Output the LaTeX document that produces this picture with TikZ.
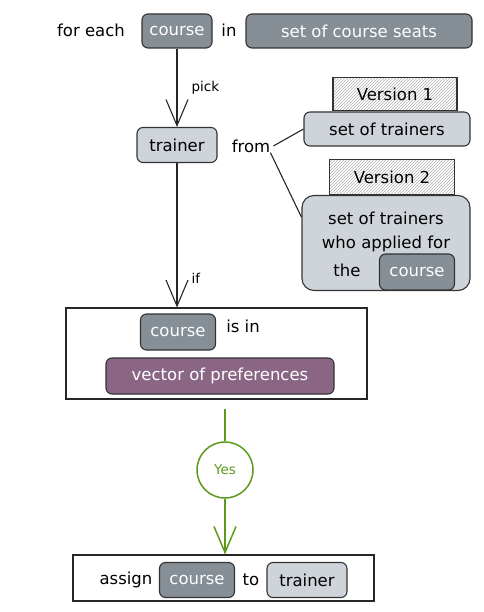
\documentclass[tikz,border=0pt]{standalone}
\usepackage{fontspec}
\setmainfont{DejaVu Sans}
\usetikzlibrary{arrows.meta,patterns}

\definecolor{darkgrey}{HTML}{868E96}
\definecolor{lightgrey}{HTML}{CED4DA}
\definecolor{prefpurple}{HTML}{8A6584}
\definecolor{yesgreen}{HTML}{5C9A1E}

\begin{document}
\begin{tikzpicture}[x=1pt,y=-1pt]
% Default looks for the diagram
\tikzstyle{every node}=[font=\fontsize{16.5}{19}\selectfont, inner sep=0pt];
\tikzstyle{dark} = [draw=black!80, fill=darkgrey, text=white, rounded corners=6pt, line width=1.1pt]
\tikzstyle{light} = [draw=black!80, fill=lightgrey, text=black, rounded corners=6pt, line width=1.1pt]
\tikzstyle{version} = [draw=black!80, pattern=north east lines, pattern color=black!30, line width=1.1pt]
\tikzstyle{frame} = [draw=black!85, fill=white, line width=1.1pt]
\tikzstyle{edge} = [draw=black!85, line width=1.1pt]
\tikzstyle{pointer} = [edge, -{Straight Barb[length=26pt,width=22pt]}]
\tikzstyle{tag} = [font=\fontsize{13.5}{16}\selectfont]
\useasboundingbox (0,0) rectangle (483,612);
% Top line
\node (foreach) at (91,30) {for each};
\node [dark, minimum width=70, minimum height=34] (course1) at (177,31) {course};
\node (in) at (229,30) {in};
\node [dark, minimum width=226, minimum height=34] (seats) at (359,31) {set of course seats};
% Picked trainer and where it comes from
\node [light, minimum width=80, minimum height=35] (trainer1) at (177,145) {trainer};
\node (from) at (251,146) {from};
\node [version, minimum width=124, minimum height=33] (ver1) at (395,94) {Version 1};
\node [light, minimum width=166, minimum height=34] (trainers1) at (387,129) {set of trainers};
\node [version, minimum width=125, minimum height=35] (ver2) at (392,177) {Version 2};
\node [light, rounded corners=12pt, minimum width=168, minimum height=95] (trainers2) at (386,243) {};
\node (line1) at (386,218) {set of trainers};
\node (line2) at (386,244) {who applied for};
\node (line3) at (347,270) {the};
\node [dark, minimum width=75, minimum height=36] (course3) at (417,272) {course};
% Condition
\node [frame, minimum width=301, minimum height=91] (cond) at (216.5,353.5) {};
\node [dark, minimum width=75, minimum height=36] (course2) at (178,332) {course};
\node (isin) at (243,326) {is in};
\node [draw=black!80, fill=prefpurple, text=white, rounded corners=6pt, line width=1.1pt,
  minimum width=228, minimum height=36] (prefs) at (220,376) {vector of preferences};
% Yes branch
\coordinate (g1) at (225,409);
\node [draw=yesgreen, line width=1.5pt, circle, minimum size=56, text=yesgreen, tag] (yes) at (225,470) {Yes};
% Result
\node [frame, minimum width=301, minimum height=46] (result) at (223.5,578) {};
\node (assign) at (126,580) {assign};
\node [dark, minimum width=75, minimum height=35] (course4) at (197,580) {course};
\node (to) at (251,580) {to};
\node [light, minimum width=80, minimum height=35] (trainer2) at (307,580) {trainer};
% Connectors
\draw [pointer] (course1.south) -- node[tag, pos=0.5, right=14pt] {pick} (trainer1.north);
\draw [edge] ([xshift=3pt]from.east) -- (trainers1.west);
\draw [edge] (from.south east) -- (trainers2.163);
\draw [pointer] (trainer1.south) -- node[tag, pos=0.8, right=14pt] {if} (cond.north -| trainer1);
\draw [draw=yesgreen, line width=1.5pt] (g1) -- (yes.north);
\draw [draw=yesgreen, line width=1.5pt, -{Straight Barb[length=26pt,width=22pt]}] (yes.south) -- (result.north -| yes);
\end{tikzpicture}
\end{document}
